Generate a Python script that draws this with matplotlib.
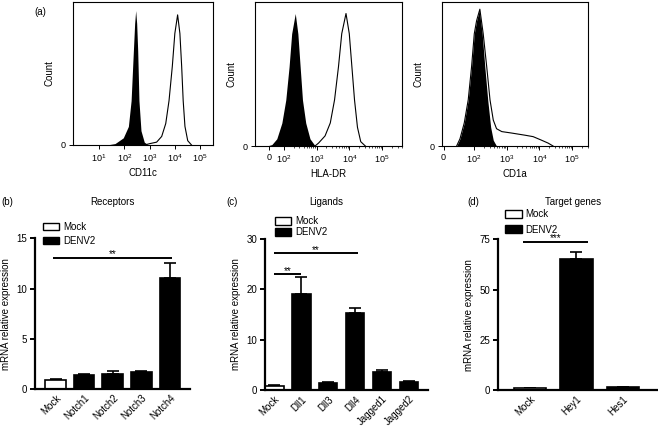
import numpy as np
import matplotlib
matplotlib.use("Agg")
import matplotlib.pyplot as plt
from matplotlib.patches import Patch
from matplotlib import ticker

plt.rcParams['font.family'] = ['Liberation Sans', 'DejaVu Sans']
plt.rcParams['mathtext.fontset'] = 'custom'
plt.rcParams['mathtext.rm'] = 'Liberation Sans'
plt.rcParams['mathtext.it'] = 'Liberation Sans:italic'
plt.rcParams['mathtext.bf'] = 'Liberation Sans:bold'

# ---------------- data: flow cytometry histograms (intensity, fraction of axis height)
cd11c_iso_x = [20, 43, 91, 145, 186, 229, 257, 282, 309, 339, 380, 457, 617, 891]
cd11c_iso_y = [0, 0.01, 0.05, 0.13, 0.31, 0.66, 0.85, 0.94, 0.85, 0.66, 0.31, 0.10, 0.02, 0]
cd11c_x = [631, 1047, 1905, 3020, 4365, 5888, 7943, 10000, 12880, 15850, 18620, 21380, 25120, 32360, 45710]
cd11c_y = [0, 0.01, 0.02, 0.06, 0.15, 0.31, 0.55, 0.78, 0.91, 0.78, 0.55, 0.31, 0.13, 0.03, 0]

hla_iso_x = [-13, 20, 53, 87, 115, 145, 174, 224, 269, 316, 372, 468, 631, 912]
hla_iso_y = [0, 0.01, 0.05, 0.16, 0.32, 0.55, 0.78, 0.92, 0.78, 0.55, 0.32, 0.16, 0.05, 0]
hla_x = [900, 1148, 1820, 2630, 3548, 4677, 5888, 7943, 10000, 12020, 14450, 17780, 22390, 30900]
hla_y = [0, 0.02, 0.07, 0.16, 0.32, 0.55, 0.78, 0.92, 0.78, 0.55, 0.32, 0.13, 0.03, 0]

cd1a_iso_x = [43, 54, 68, 81, 92, 102, 120, 145, 178, 214, 263, 324, 389, 490]
cd1a_iso_y = [0, 0.05, 0.16, 0.32, 0.55, 0.78, 0.87, 0.94, 0.78, 0.55, 0.32, 0.13, 0.04, 0]
cd1a_x = [43, 54, 68, 81, 92, 102, 120, 151, 191, 245, 309, 389, 490, 708, 1413, 3631, 6457, 11750, 18620, 26300]
cd1a_y = [0, 0.05, 0.16, 0.32, 0.55, 0.78, 0.87, 0.95, 0.78, 0.55, 0.32, 0.18, 0.12, 0.10, 0.09, 0.075, 0.065, 0.04, 0.02, 0]

# ---------------- data: qPCR bars
rec_labels = ['Mock', 'Notch1', 'Notch2', 'Notch3', 'Notch4']
rec_vals = [0.9, 1.4, 1.5, 1.7, 11.0]
rec_err = [0.1, 0.1, 0.3, 0.1, 1.5]

lig_labels = ['Mock', 'Dll1', 'Dll3', 'Dll4', 'Jagged1', 'Jagged2']
lig_vals = [0.8, 19.0, 1.3, 15.3, 3.5, 1.6]
lig_err = [0.2, 3.4, 0.2, 0.9, 0.5, 0.1]

tg_labels = ['Mock', 'Hey1', 'Hes1']
tg_vals = [1.0, 65.2, 1.5]
tg_err = [0.2, 3.6, 0.2]

W, H = 658, 426
fig = plt.figure(figsize=(W / 100, H / 100), dpi=100)


def ax_px(l, r, t, b):
    return fig.add_axes([l / W, 1 - b / H, (r - l) / W, (b - t) / H])


FS = 6.5


def hist_panel(ax, xi, yi, xo, yo, xlabel):
    ax.fill_between(xi, yi, 0, color='black', lw=0)
    ax.plot(xo, yo, color='black', lw=0.8)
    ax.set_ylim(0, 1.0)
    ax.set_yticks([0])
    ax.set_yticklabels(['0'], fontsize=FS)
    ax.set_xlabel(xlabel, fontsize=7, labelpad=3)
    ax.set_ylabel('Count', fontsize=7, labelpad=5)
    ax.tick_params(axis='both', which='major', length=3, width=0.7, labelsize=FS, pad=2)
    ax.tick_params(axis='x', which='minor', length=1.5, width=0.5)
    for s in ax.spines.values():
        s.set_linewidth(0.8)


dec_labels = ['10$^{1}$', '10$^{2}$', '10$^{3}$', '10$^{4}$', '10$^{5}$']

# panel a1
a1 = ax_px(73, 213, 2, 145)
hist_panel(a1, cd11c_iso_x, cd11c_iso_y, cd11c_x, cd11c_y, 'CD11c')
a1.set_xscale('log')
a1.set_xlim(10 ** -0.03, 10 ** 5.51)
a1.set_xticks([1e1, 1e2, 1e3, 1e4, 1e5])
a1.set_xticklabels(dec_labels)
a1.xaxis.set_minor_locator(ticker.LogLocator(base=10, subs=np.arange(2, 10)))
a1.xaxis.set_minor_formatter(ticker.NullFormatter())

# panel a2
a2 = ax_px(255, 402, 2, 146)
hist_panel(a2, hla_iso_x, hla_iso_y, hla_x, hla_y, 'HLA-DR')
a2.set_xscale('symlog', linthresh=100, linscale=0.41)
a2.set_xlim(-93, 10 ** 5.61)
a2.set_xticks([0, 1e2, 1e3, 1e4, 1e5])
a2.set_xticklabels(['0'] + dec_labels[1:])
a2.xaxis.set_minor_locator(ticker.SymmetricalLogLocator(linthresh=100, base=10, subs=np.arange(2, 10)))

# panel a3
a3 = ax_px(442, 588, 2, 146)
hist_panel(a3, cd1a_iso_x, cd1a_iso_y, cd1a_x, cd1a_y, 'CD1a')
a3.set_xscale('symlog', linthresh=100, linscale=0.84)
a3.set_xlim(-5, 10 ** 5.49)
a3.set_xticks([0, 1e2, 1e3, 1e4, 1e5])
a3.set_xticklabels(['0'] + dec_labels[1:])
a3.xaxis.set_minor_locator(ticker.SymmetricalLogLocator(linthresh=100, base=10, subs=np.arange(2, 10)))

fig.text(40 / W, 1 - 12 / H, '(a)', fontsize=7, ha='center', va='center')


def bar_panel(ax, labels, vals, errs, ymax, yticks, xlim, width, leg_anchor, leg_sp):
    x = np.arange(len(labels))
    colors = ['white'] + ['black'] * (len(labels) - 1)
    ax.bar(x, vals, width=width, color=colors, edgecolor='black', linewidth=1.2, zorder=2)
    ax.errorbar(x, vals, yerr=[np.zeros(len(errs)), errs], fmt='none', ecolor='black',
                elinewidth=1.2, capsize=4, capthick=1.2, zorder=1)
    ax.set_ylim(0, ymax)
    ax.set_xlim(*xlim)
    ax.set_yticks(yticks)
    ax.set_xticks(x)
    ax.set_xticklabels(labels, rotation=45, ha='right', rotation_mode='anchor', fontsize=7)
    ax.spines['top'].set_visible(False)
    ax.spines['right'].set_visible(False)
    ax.spines['left'].set_linewidth(1.6)
    ax.spines['bottom'].set_linewidth(1.6)
    ax.tick_params(axis='y', length=3.5, width=1.4, labelsize=7, pad=2)
    ax.tick_params(axis='x', length=0, pad=3)
    ax.set_ylabel('mRNA relative expression', fontsize=7, labelpad=4)
    handles = [Patch(facecolor='white', edgecolor='black', linewidth=1.0, label='Mock'),
               Patch(facecolor='black', edgecolor='black', label='DENV2')]
    ax.legend(handles=handles, loc='upper left', bbox_to_anchor=leg_anchor, frameon=False,
              fontsize=7, handlelength=1.7, handleheight=0.8, handletextpad=0.4,
              labelspacing=leg_sp, borderpad=0, borderaxespad=0)


def sig(ax, x0, x1, y, txt, dy):
    ax.plot([x0, x1], [y, y], color='black', lw=1.4, solid_capstyle='butt')
    ax.text((x0 + x1) / 2, y + dy, txt, ha='center', va='bottom', fontsize=7)


# panel b
b = ax_px(35, 190, 238.3, 389)
bar_panel(b, rec_labels, rec_vals, rec_err, 15, [0, 5, 10, 15], (-0.72, 4.7), 0.72, (0.05, 1.11), 0.45)
sig(b, -0.08, 4.06, 13.0, '**', -0.1)
fig.text(112 / W, 1 - 201.7 / H, 'Receptors', fontsize=7, ha='center', va='center')
fig.text(7 / W, 1 - 201.7 / H, '(b)', fontsize=7, ha='center', va='center')

# panel c
c = ax_px(265, 428, 239, 390)
bar_panel(c, lig_labels, lig_vals, lig_err, 30, [0, 10, 20, 30], (-0.35, 5.7), 0.68, (0.06, 1.15), 0.1)
sig(c, 0, 3.1, 27.2, '**', -0.3)
sig(c, 0, 1.0, 23.0, '**', -0.3)
fig.text(326.7 / W, 1 - 201.7 / H, 'Ligands', fontsize=7, ha='center', va='center')
fig.text(231.7 / W, 1 - 201.7 / H, '(c)', fontsize=7, ha='center', va='center')

# panel d
d = ax_px(498, 657, 239.3, 390)
bar_panel(d, tg_labels, tg_vals, tg_err, 75, [0, 25, 50, 75], (-0.685, 2.73), 0.7, (0.045, 1.2), 0.55)
sig(d, -0.15, 1.24, 73.5, '***', -0.5)
fig.text(573 / W, 1 - 201.7 / H, 'Target genes', fontsize=7, ha='center', va='center')
fig.text(473.3 / W, 1 - 201.7 / H, '(d)', fontsize=7, ha='center', va='center')

fig.savefig('out.png', dpi=100)
